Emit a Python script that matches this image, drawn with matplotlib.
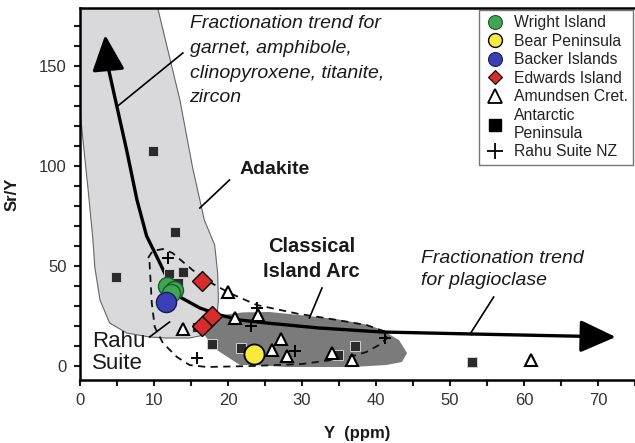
import matplotlib
matplotlib.use("Agg")
import matplotlib.pyplot as plt
from matplotlib.lines import Line2D
from matplotlib.patches import Polygon
from matplotlib.ticker import MultipleLocator

plt.rcParams['font.family'] = ['Liberation Sans', 'DejaVu Sans']

# ---------------- data ----------------
wright_x = [11.8, 12.7, 12.3]
wright_y = [40.0, 38.0, 36.5]
bear_x = [23.5]
bear_y = [6.0]
backer_x = [11.6]
backer_y = [32.0]
edwards_x = [16.5, 17.8, 16.5]
edwards_y = [42.5, 25.0, 20.0]
amundsen_x = [20.0, 13.9, 21.0, 24.0, 27.1, 26.0, 28.0, 34.0, 36.8, 60.9]
amundsen_y = [37.0, 18.5, 24.0, 25.5, 13.5, 8.0, 5.0, 6.5, 3.0, 3.0]
antarctic_x = [9.8, 4.85, 12.9, 12.0, 13.9, 13.2, 17.8, 15.8, 21.8, 34.8, 37.2, 53.0]
antarctic_y = [107.5, 44.5, 67.0, 46.0, 47.0, 41.5, 11.0, 19.5, 9.0, 5.5, 10.0, 2.0]
rahu_x = [11.9, 15.8, 23.9, 23.1, 29.1, 41.2]
rahu_y = [54.0, 4.0, 29.0, 20.0, 7.5, 14.0]

# field outlines (data coordinates)
adakite_x = [10.5, 13.5, 15.2, 16.8, 18.2, 18.6, 18.7, 18.5, 17.6, 16.4, 14.8, 11.5, 9.4,
             6.3, 4.0, 2.7, 2.0, 1.75, 1.1, 0.4, 0.0, -0.5, -1.0]
adakite_y = [179, 133, 99.5, 73, 60.5, 46.5, 33, 24.5, 18.5, 15.2, 14, 14, 14.5,
             16.5, 21.5, 33, 49.5, 63, 88, 113, 128, 153, 183]
arc_x = [16.4, 17.5, 19.3, 22.0, 25.6, 29.6, 34.6, 39.0, 40.8, 43.1, 44.2, 43.5,
         41.4, 36.8, 27.9, 23.3, 21.6, 18.5, 16.8]
arc_y = [18.0, 22.5, 25.5, 26.8, 27.0, 25.5, 23.5, 20.5, 18.0, 13.0, 6.5, 2.0,
         0.5, -0.5, -0.5, 0.5, 0.5, 8.0, 15.5]
rahu_field_x = [9.2, 9.8, 11.2, 12.5, 15.2, 17.5, 20.2, 23.9, 29.6, 32.3, 38.7, 41.4,
                41.4, 40.4, 38.7, 36.0, 30.0, 23.3, 17.1, 14.8, 13.1, 11.2, 10.1, 9.7, 9.4]
rahu_field_y = [54, 57.5, 58.5, 56.5, 48, 42, 36.5, 30.5, 26, 24.5, 20.5, 17,
                13.5, 10.5, 7, 4, 1, 0, -0.5, 0.5, 4.5, 11.5, 19.5, 31.5, 51.5]

# fractionation trend curve
trend_x = [3.8, 5.0, 6.3, 7.7, 9.0, 10.4, 11.7, 13.5, 16.2, 18.9, 21.6, 25.2, 32.3, 40.8, 53.0]
trend_y = [149.5, 129.5, 108, 83, 65, 54.5, 44.5, 34.5, 29, 25.5, 23, 21.5, 19, 17, 16]
top_tip = (3.4, 165.5)
right_tip = (72.4, 14.5)

# ---------------- figure ----------------
fig = plt.figure(figsize=(6.35, 4.43), dpi=100)
ax = fig.add_axes([80/635, 63/443, (635-80)/635, (380-8)/443])
ax.set_xlim(0, 75)
ax.set_ylim(-7, 179)

ax.add_patch(Polygon(list(zip(adakite_x, adakite_y)), closed=True,
                     facecolor='#d9d9db', edgecolor='#666666', lw=0.8, zorder=1))
ax.add_patch(Polygon(list(zip(arc_x, arc_y)), closed=True,
                     facecolor='#7b7b7b', edgecolor='none', zorder=2))
ax.add_patch(Polygon(list(zip(rahu_field_x, rahu_field_y)), closed=True,
                     facecolor='none', edgecolor='#111111', lw=1.3,
                     linestyle=(0, (4, 3)), zorder=3))

# trend line + arrows
ax.plot(trend_x, trend_y, color='black', lw=2.4, zorder=4, solid_capstyle='butt')
astyle = '-|>,head_length=1.1,head_width=0.5'
ax.annotate('', xy=top_tip, xytext=(trend_x[0], trend_y[0]),
            arrowprops=dict(arrowstyle=astyle, mutation_scale=20, lw=2.4,
                            color='black', shrinkA=0, shrinkB=0), zorder=4)
ax.annotate('', xy=right_tip, xytext=(trend_x[-1], trend_y[-1]),
            arrowprops=dict(arrowstyle=astyle, mutation_scale=20, lw=2.4,
                            color='black', shrinkA=0, shrinkB=0), zorder=4)

# leader lines
leaders = [((5.1, 130), (13.9, 156.5)),
           ((16.2, 79), (20.2, 93)),
           ((31.0, 24), (32.7, 39)),
           ((52.8, 16.5), (55.9, 34.5)),
           ((9.4, 14.5), (12.1, 22))]
for (x0, y0), (x1, y1) in leaders:
    ax.plot([x0, x1], [y0, y1], color='black', lw=1.2, zorder=4)

# points
ax.plot(antarctic_x, antarctic_y, 's', ms=6.5, mfc='#2b2b2b', mec='#cfcfcf', mew=0.7, zorder=5, ls='none')
ax.plot(rahu_x, rahu_y, '+', ms=9, mec='black', mew=1.4, zorder=6, ls='none')
ax.plot(amundsen_x, amundsen_y, '^', ms=8.5, mfc='white', mec='black', mew=1.5, zorder=6, ls='none')
ax.plot(wright_x, wright_y, 'o', ms=13, mfc='#3fa652', mec='#1e5a2a', mew=1.0, zorder=7, ls='none')
ax.plot(backer_x, backer_y, 'o', ms=14.5, mfc='#3a3fb8', mec='#1a1a55', mew=1.0, zorder=7, ls='none')
ax.plot(bear_x, bear_y, 'o', ms=14.5, mfc='#f7ea3a', mec='black', mew=1.3, zorder=7, ls='none')
ax.plot(edwards_x, edwards_y, 'D', ms=10, mfc='#d92b2b', mec='black', mew=1.0, zorder=7, ls='none')

# texts
tc = '#1a1a1a'
ax.text(14.8, 175.5, 'Fractionation trend for\ngarnet, amphibole,\nclinopyroxene, titanite,\nzircon',
        fontsize=14, style='italic', color=tc, va='top', ha='left', linespacing=1.6, zorder=8)
ax.text(21.6, 98, 'Adakite', fontsize=14, weight='bold', color=tc, va='center', ha='left', zorder=8)
ax.text(31.3, 53.5, 'Classical\nIsland Arc', fontsize=14.5, weight='bold', color=tc,
        va='center', ha='center', linespacing=1.45, zorder=8)
ax.text(1.6, 6.8, 'Rahu\nSuite', fontsize=16, color=tc, va='center', ha='left', linespacing=1.1, zorder=8)
ax.text(46.1, 48.3, 'Fractionation trend\nfor plagioclase', fontsize=14, style='italic', color=tc,
        va='center', ha='left', linespacing=1.36, zorder=8)

# axes styling
for s in ['left', 'bottom', 'top']:
    ax.spines[s].set_linewidth(1.8)
ax.spines['right'].set_visible(False)
ax.xaxis.set_major_locator(MultipleLocator(10))
ax.xaxis.set_minor_locator(MultipleLocator(5))
ax.yaxis.set_major_locator(MultipleLocator(50))
ax.yaxis.set_minor_locator(MultipleLocator(10))
ax.tick_params(which='both', direction='out', length=4.5, width=1.5, colors='#1a1a1a')
ax.tick_params(which='major', labelsize=12, pad=5, labelcolor='#333333')
ax.set_xlabel('Y  (ppm)', fontsize=12, weight='bold', labelpad=13, color=tc)
ax.set_ylabel('Sr/Y', fontsize=12, weight='bold', labelpad=14, color=tc)

# legend
handles = [
    Line2D([], [], ls='none', marker='o', ms=10, mfc='#3fa652', mec='#1e5a2a', mew=0.8),
    Line2D([], [], ls='none', marker='o', ms=10, mfc='#f7ea3a', mec='black', mew=1.0),
    Line2D([], [], ls='none', marker='o', ms=10, mfc='#3a3fb8', mec='#1a1a55', mew=0.8),
    Line2D([], [], ls='none', marker='D', ms=7.5, mfc='#d92b2b', mec='black', mew=0.8),
    Line2D([], [], ls='none', marker='^', ms=10, mfc='white', mec='black', mew=1.3),
    Line2D([], [], ls='none', marker='s', ms=9, mfc='black', mec='black'),
    Line2D([], [], ls='none', marker='+', ms=11, mec='black', mew=1.3),
]
labels = ['Wright Island', 'Bear Peninsula', 'Backer Islands', 'Edwards Island',
          'Amundsen Cret.', 'Antarctic\nPeninsula', 'Rahu Suite NZ']
leg = ax.legend(handles, labels, loc='upper right', bbox_to_anchor=(0.997, 0.995),
                fontsize=11.3, frameon=True, fancybox=False, borderpad=0.35,
                labelspacing=0.22, handlelength=1.3, handletextpad=0.55,
                borderaxespad=0.0)
leg.get_frame().set_edgecolor('#555555')
leg.get_frame().set_linewidth(1.0)
for t in leg.get_texts():
    t.set_color('#222222')
    t.set_linespacing(1.25)
leg.set_zorder(10)

fig.savefig('out.png', dpi=100)
